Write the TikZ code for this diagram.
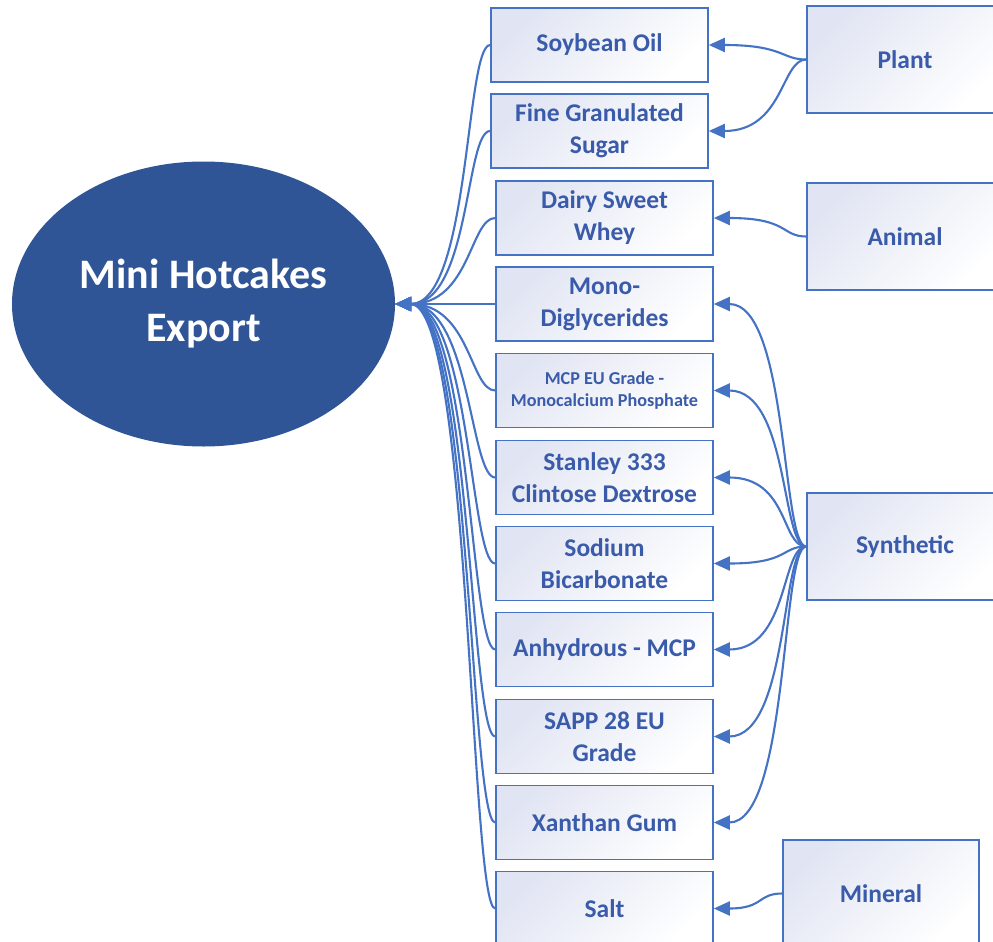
\documentclass[tikz,border=0pt]{standalone}
\usepackage{fontspec}
\setmainfont{Carlito}
\usetikzlibrary{arrows.meta,shapes.geometric}
\definecolor{lineblue}{HTML}{4472C4}
\definecolor{txtblue}{HTML}{3A5BAA}
\definecolor{ellblue}{HTML}{2F5597}
\definecolor{boxtop}{HTML}{E1E5F3}
\begin{document}
\begin{tikzpicture}[x=1pt,y=-1pt,
  box/.style={draw=lineblue, line width=1.6pt, top color=boxtop, bottom color=white,
    shading angle=45, minimum width=217pt, minimum height=74pt, inner sep=0pt,
    align=center, text=txtblue, font=\fontsize{25.5}{32}\selectfont\bfseries},
  srcbox/.style={box, minimum width=196pt, minimum height=107pt},
  smalltext/.style={font=\fontsize{18.2}{22}\selectfont\bfseries},
  conn/.style={draw=lineblue, line width=2.1pt, -{Triangle[length=16pt,width=14pt]}}]
\clip (0,0) rectangle (993,942);
\fill[white] (0,0) rectangle (993,942);

\node[ellipse, fill=ellblue, minimum width=383pt, minimum height=285pt, inner sep=0pt,
  align=center, text=white, font=\fontsize{42}{53}\selectfont\bfseries]
  (ell) at (203.5,304) {Mini Hotcakes\\Export};

\node[box] (soy) at (599.5,45) {Soybean Oil};
\node[box] (sugar) at (599.5,131) {Fine Granulated\\Sugar};
\node[box] (whey) at (604.5,218) {Dairy Sweet\\Whey};
\node[box] (mono) at (604.5,304) {Mono-\\Diglycerides};
\node[box, smalltext] (mcp) at (604.5,390.5) {MCP EU Grade -\\Monocalcium Phosphate};
\node[box] (stan) at (604.5,477.5) {Stanley 333\\Clintose Dextrose};
\node[box] (sod) at (604.5,563.5) {Sodium\\Bicarbonate};
\node[box] (anh) at (604.5,649.5) {Anhydrous - MCP};
\node[box] (sapp) at (604.5,736.5) {SAPP 28 EU\\Grade};
\node[box] (xan) at (604.5,822.5) {Xanthan Gum};
\node[box] (salt) at (604.5,908.5) {Salt};

\node[srcbox] (plant) at (905,59.5) {Plant};
\node[srcbox] (animal) at (905,236.5) {Animal};
\node[srcbox] (synth) at (905,546.5) {Synthetic};
\node[srcbox] (mineral) at (881,893.5) {Mineral};

\foreach \n in {soy,sugar,whey,mono,mcp,stan,sod,anh,sapp,xan,salt}
  \draw[conn] (\n.west) .. controls +(-25,0) and +(75,0) .. (ell.east);

\draw[conn] (plant.west) .. controls +(-25,0) and +(75,0) .. (soy.east);
\draw[conn] (plant.west) .. controls +(-25,0) and +(75,0) .. (sugar.east);
\draw[conn] (animal.west) .. controls +(-25,0) and +(75,0) .. (whey.east);
\foreach \n in {mono,mcp,stan,sod,anh,sapp,xan}
  \draw[conn] (synth.west) .. controls +(-25,0) and +(75,0) .. (\n.east);
\draw[conn] (mineral.west) .. controls +(-25,0) and +(50,0) .. (salt.east);
\end{tikzpicture}
\end{document}
